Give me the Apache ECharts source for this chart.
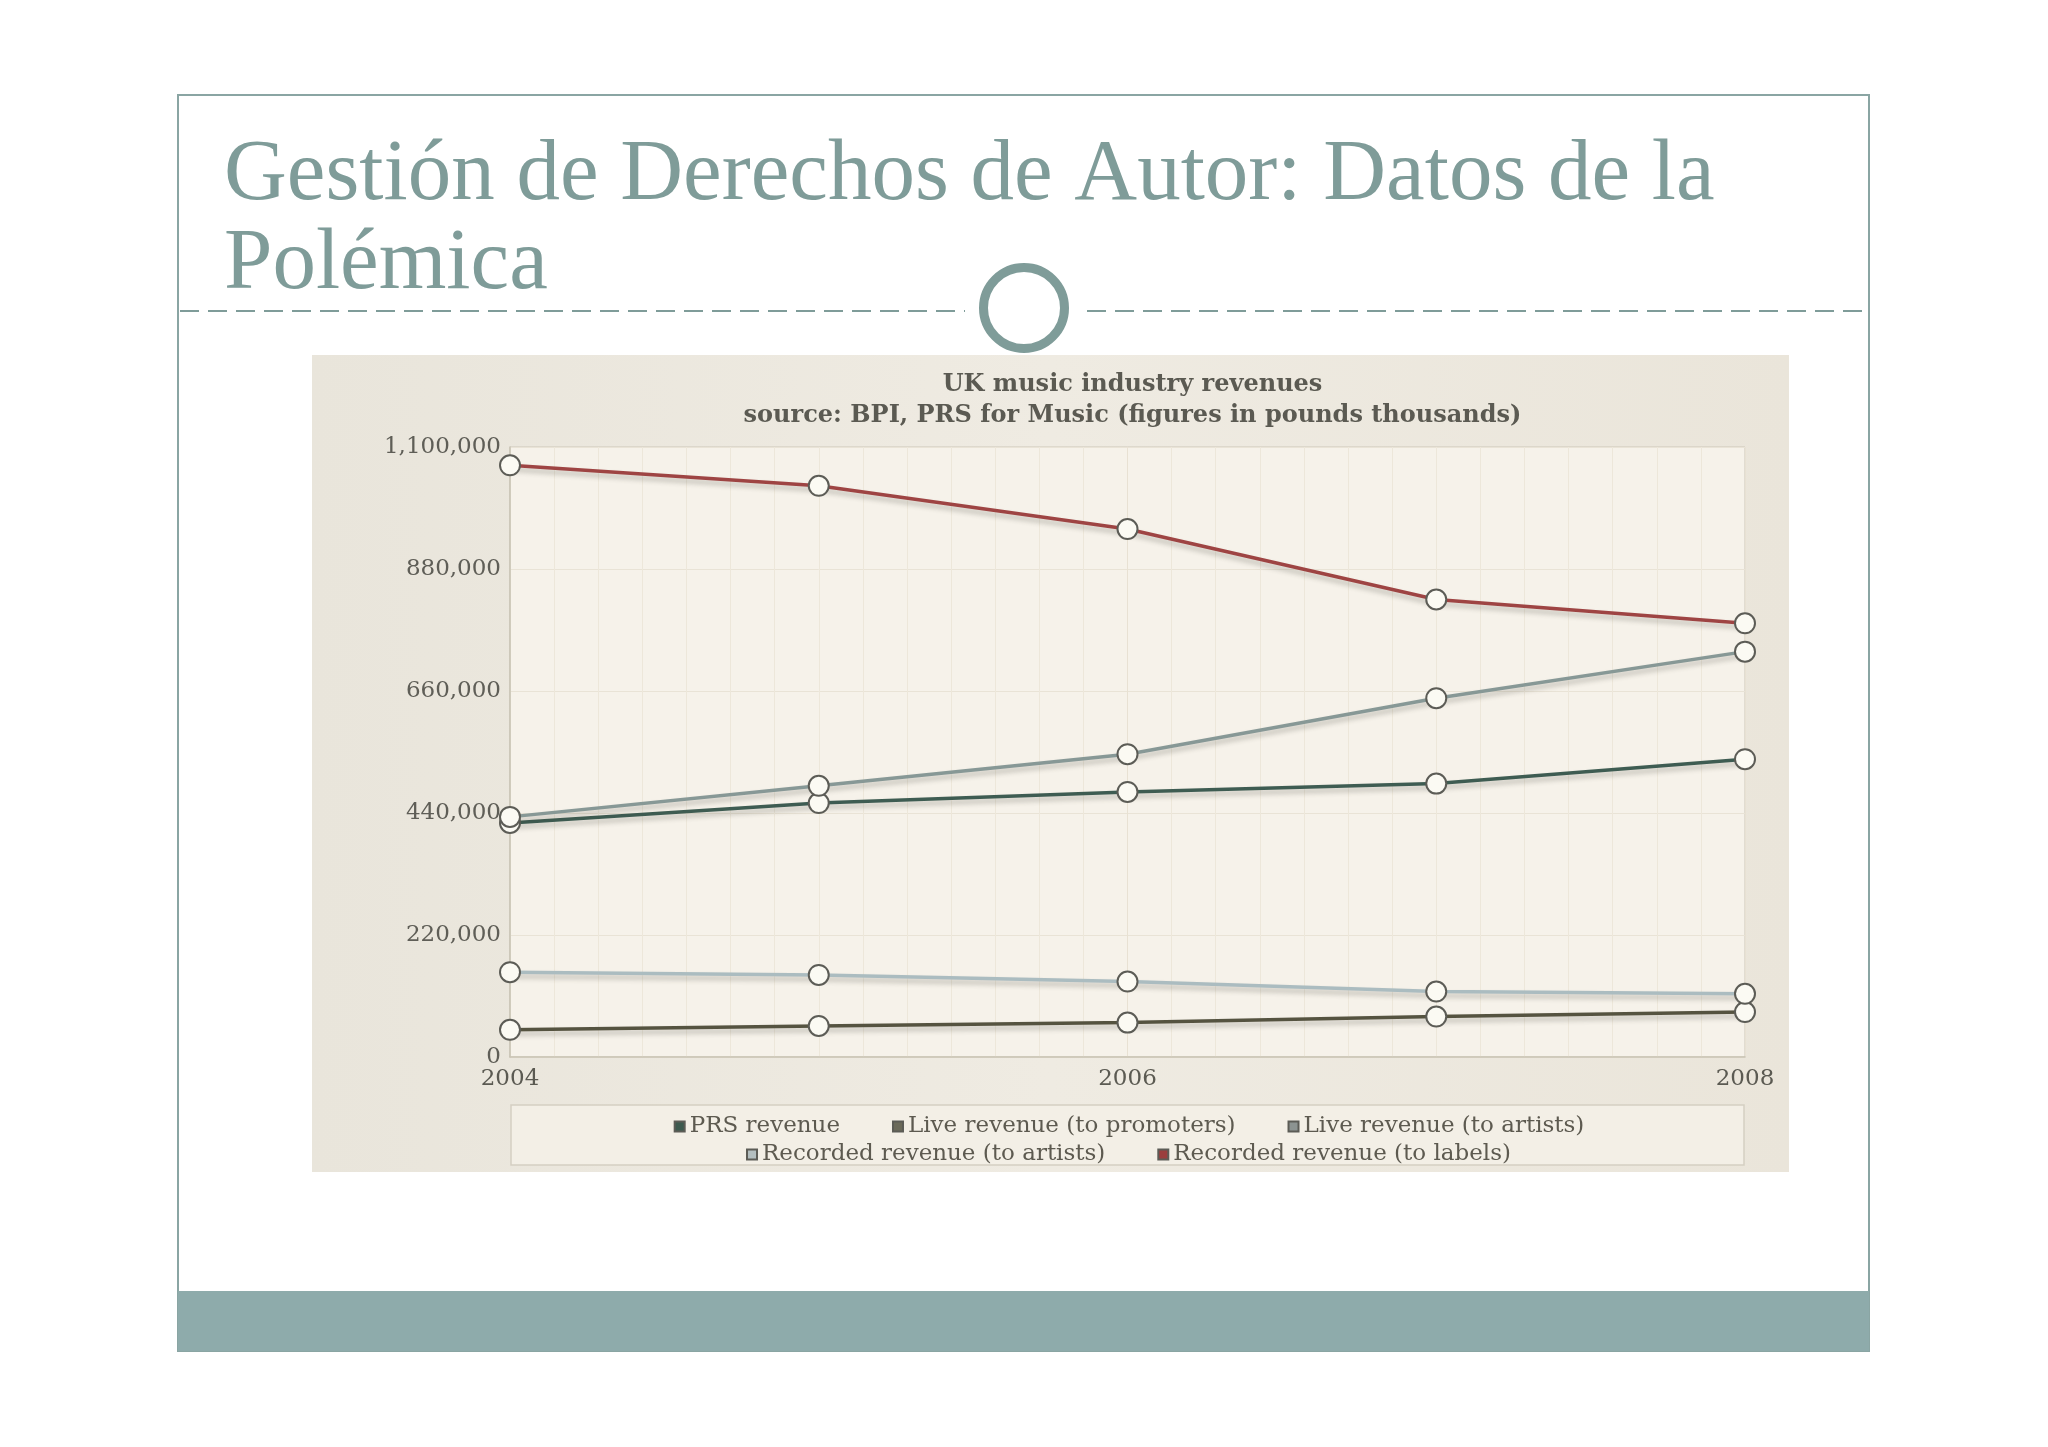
<!DOCTYPE html>
<html>
<head>
<meta charset="utf-8">
<script src="https://cdn.jsdelivr.net/npm/echarts@6/dist/echarts.min.js"></script>
<style>
html,body{margin:0;padding:0;background:#ffffff;}
#chart{width:2048px;height:1447px;}
</style>
</head>
<body>
<div id="chart"></div>
<script>
// ---- data ----
const years = [2004, 2005, 2006, 2007, 2008];
const seriesNames = ['PRS revenue', 'Live revenue (to promoters)', 'Live revenue (to artists)', 'Recorded revenue (to artists)', 'Recorded revenue (to labels)'];
const prsRevenue = [422000, 458000, 478000, 493000, 537000];
const liveToPromoters = [49000, 56000, 62000, 73000, 81000];
const liveToArtists = [433000, 489000, 546000, 647000, 731000];
const recordedToArtists = [153000, 148000, 136000, 118000, 114000];
const recordedToLabels = [1067000, 1030000, 952000, 825000, 782000];
const xTickLabels = [2004, 2006, 2008];
const slideTitleLines = ['Gestión de Derechos de Autor: Datos de la', 'Polémica'];
const chartTitle = 'UK music industry revenues';
const chartSubtitle = 'source: BPI, PRS for Music (figures in pounds thousands)';

// ---- styles ----
const lineColors = ['#3e5c52', '#555340', '#879896', '#abbcc0', '#9e4443'];
const legendColors = ['#3d5a4f', '#6b6a5a', '#8c9391', '#b4bfc0', '#9b3e3e'];
const allValues = [prsRevenue, liveToPromoters, liveToArtists, recordedToArtists, recordedToLabels];

const PLOT_L = 510, PLOT_R = 1745, PLOT_T = 447, PLOT_B = 1057;
const W = 2048, H = 1447;
const CX = (PLOT_L + PLOT_R) / 2;
const teal = '#7f9c99';
const FRAME_L = 178, FRAME_R = 1869, FRAME_T = 95, FRAME_B = 1351;

const LEG_SIZE = 23;
const legendFont = LEG_SIZE + 'px "DejaVu Serif"';
function measure(t, font) {
  const c = document.createElement('canvas').getContext('2d');
  c.font = font; return c.measureText(t).width;
}
const ITEM_W = 10, ITEM_GAP = 52;
function legendLeft(names) {
  let w = 0;
  names.forEach((n, i) => { w += ITEM_W + 5 + measure(n, legendFont); if (i) w += ITEM_GAP; });
  return CX - w / 2 - 5;
}

const chart = echarts.init(document.getElementById('chart'), null, {renderer: 'canvas'});

const series = seriesNames.map((name, i) => ({
  name: name,
  type: 'line',
  data: years.map((y, k) => [y, allValues[i][k]]),
  symbol: 'circle',
  symbolSize: 20,
  z: 3 + i,
  lineStyle: {color: lineColors[i], width: 3.5, shadowColor: 'rgba(60,60,50,0.3)', shadowBlur: 5, shadowOffsetY: 4},
  itemStyle: {color: '#fbfaf3', borderColor: '#5c5c56', borderWidth: 2},
  emphasis: {disabled: true}
}));

const legendRow1 = seriesNames.slice(0, 3);
const legendRow2 = seriesNames.slice(3);

const legendCommon = {
  icon: 'rect', itemWidth: ITEM_W, itemHeight: 10, itemGap: ITEM_GAP,
  textStyle: {fontFamily: 'DejaVu Serif', fontSize: LEG_SIZE, color: '#5d5a50'},
  selectedMode: false
};

const option = {
  backgroundColor: '#ffffff',
  animation: false,
  title: {
    text: chartTitle,
    subtext: chartSubtitle,
    left: CX,
    top: 368,
    textAlign: 'center',
    itemGap: 7,
    textStyle: {fontFamily: 'DejaVu Serif', fontWeight: 'bold', fontSize: 24, color: '#5b5a52'},
    subtextStyle: {fontFamily: 'DejaVu Serif', fontWeight: 'bold', fontSize: 24, color: '#5b5a52'}
  },
  legend: [
    Object.assign({
      data: legendRow1.map((n) => ({name: n, itemStyle: {color: legendColors[seriesNames.indexOf(n)]}})),
      left: legendLeft(legendRow1), top: 1110
    }, legendCommon),
    Object.assign({
      data: legendRow2.map((n) => ({name: n, itemStyle: {color: legendColors[seriesNames.indexOf(n)]}})),
      left: legendLeft(legendRow2), top: 1138
    }, legendCommon)
  ],
  grid: {
    left: PLOT_L, right: W - PLOT_R, top: PLOT_T, bottom: H - PLOT_B,
    show: true, backgroundColor: '#f6f2ea', borderColor: '#cdc7b8', borderWidth: 1,
    containLabel: false
  },
  xAxis: {
    type: 'value', min: 2004, max: 2008, interval: 2,
    axisLine: {show: true, lineStyle: {color: '#c9c3b4', width: 1.5}},
    axisTick: {show: false},
    splitLine: {show: true, lineStyle: {color: '#e8e1d3', width: 1}},
    minorTick: {show: false, splitNumber: 14},
    minorSplitLine: {show: true, lineStyle: {color: '#ede7da', width: 1}},
    axisLabel: {
      margin: 11, fontFamily: 'DejaVu Serif', fontSize: 23, color: '#5b5a52',
      formatter: (v) => (xTickLabels.indexOf(v) >= 0 ? String(v) : '')
    }
  },
  yAxis: {
    type: 'value', min: 0, max: 1100000, interval: 220000,
    axisLine: {show: true, lineStyle: {color: '#c9c3b4', width: 1.5}},
    axisTick: {show: false},
    splitLine: {show: true, lineStyle: {color: '#e9e3d6', width: 1}},
    axisLabel: {
      margin: 9, fontFamily: 'DejaVu Serif', fontSize: 23, color: '#5f5e57',
      formatter: (v) => v.toLocaleString('en-US')
    }
  },
  graphic: [
    // slide frame
    {type: 'rect', z: -10, shape: {x: FRAME_L, y: FRAME_T, width: FRAME_R - FRAME_L, height: FRAME_B - FRAME_T}, style: {fill: '#ffffff', stroke: '#8aa5a3', lineWidth: 2}},
    // bottom bar
    {type: 'rect', z: -9, shape: {x: FRAME_L, y: 1291, width: FRAME_R - FRAME_L, height: FRAME_B - 1291}, style: {fill: '#8eabab'}},
    // slide title
    {type: 'text', z: 5, left: 224, top: 132, style: {text: slideTitleLines.join('\n'), font: '87px "Liberation Serif"', fill: teal, lineHeight: 89}},
    // dashed separators
    {type: 'line', z: 5, shape: {x1: FRAME_L + 2, y1: 311, x2: 965, y2: 311}, style: {stroke: teal, lineWidth: 2, lineDash: [19, 9]}},
    {type: 'line', z: 5, shape: {x1: 1087, y1: 311, x2: FRAME_R - 1, y2: 311}, style: {stroke: teal, lineWidth: 2, lineDash: [19, 9]}},
    // circle
    {type: 'circle', z: 6, shape: {cx: 1024, cy: 308, r: 40.5}, style: {fill: '#ffffff', stroke: teal, lineWidth: 9}},
    // chart background
    {type: 'rect', z: -8, shape: {x: 312, y: 355, width: 1477, height: 817},
      style: {fill: {type: 'linear', x: 0, y: 0, x2: 1, y2: 0, colorStops: [{offset: 0, color: '#e9e5db'}, {offset: 0.5, color: '#efebe2'}, {offset: 1, color: '#eae5da'}]}}},
    // legend box
    {type: 'rect', z: -7, shape: {x: 511, y: 1105, width: 1233, height: 60}, style: {fill: '#f3efe6', stroke: '#d5cfc2', lineWidth: 1.5}}
  ],
  series: series
};

chart.setOption(option);
</script>
</body>
</html>
